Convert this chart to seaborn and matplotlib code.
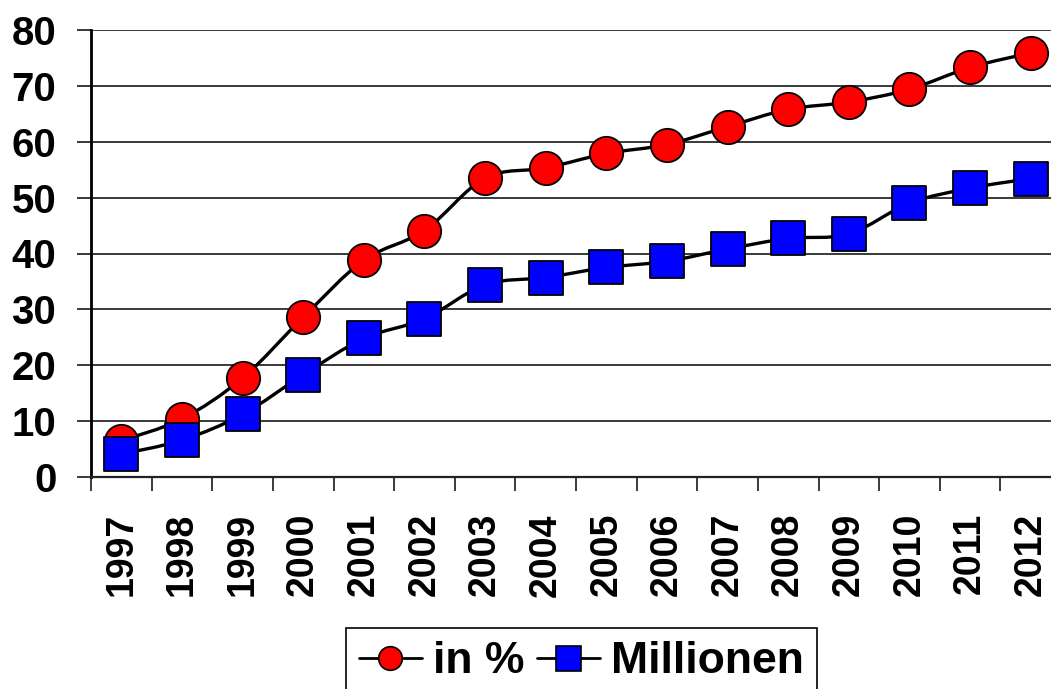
import numpy as np
import matplotlib
matplotlib.use("Agg")
import matplotlib.pyplot as plt
from matplotlib.path import Path
from matplotlib.patches import PathPatch
from matplotlib.lines import Line2D
import pandas as pd
import seaborn as sns

# Internet users in Germany, 1997-2012
years = ["1997", "1998", "1999", "2000", "2001", "2002", "2003", "2004",
         "2005", "2006", "2007", "2008", "2009", "2010", "2011", "2012"]
share_pct = [6.5, 10.4, 17.7, 28.6, 38.8, 44.1, 53.5, 55.3,
             57.9, 59.5, 62.7, 65.8, 67.1, 69.4, 73.3, 75.9]
users_mio = [4.1, 6.6, 11.2, 18.3, 24.8, 28.3, 34.4, 35.7,
             37.5, 38.6, 40.8, 42.7, 43.5, 49.0, 51.7, 53.4]
series_names = ["in %", "Millionen"]
y_ticks = [0, 10, 20, 30, 40, 50, 60, 70, 80]

sns.set_theme(style="white")
plt.rcParams["font.family"] = ["Liberation Sans", "DejaVu Sans"]
plt.rcParams["font.weight"] = "bold"
plt.rcParams["text.color"] = "black"
plt.rcParams["xtick.color"] = "black"
plt.rcParams["ytick.color"] = "black"
plt.rcParams["xtick.labelcolor"] = "black"
plt.rcParams["ytick.labelcolor"] = "black"

x = np.arange(len(years))
df = pd.DataFrame({"x": np.concatenate([x, x]),
                   "value": share_pct + users_mio,
                   "series": [series_names[0]] * len(years) + [series_names[1]] * len(years)})

W, H = 1051, 689
fig = plt.figure(figsize=(W / 100, H / 100), dpi=100)
ax = fig.add_axes([91 / W, (H - 477) / H, 970 / W, 447 / H])


def smooth_path(xs, ys):
    """Cubic Bezier path through the points (Catmull-Rom style smoothing)."""
    pts = np.column_stack([xs, ys]).astype(float)
    n = len(pts)
    verts = [pts[0]]
    codes = [Path.MOVETO]
    for i in range(n - 1):
        p0 = pts[i - 1] if i > 0 else pts[i]
        p1 = pts[i]
        p2 = pts[i + 1]
        p3 = pts[i + 2] if i + 2 < n else pts[i + 1]
        c1 = p1 + (p2 - p0) / 6.0
        c2 = p2 - (p3 - p1) / 6.0
        verts += [c1, c2, p2]
        codes += [Path.CURVE4] * 3
    return Path(verts, codes)


colors = {series_names[0]: "#ff0000", series_names[1]: "#0000ff"}
markers = {series_names[0]: "o", series_names[1]: "s"}

for z, (name, vals) in enumerate([(series_names[0], share_pct), (series_names[1], users_mio)]):
    ax.add_patch(PathPatch(smooth_path(x, vals), facecolor="none",
                           edgecolor="black", lw=2.4, zorder=3 + 2 * z))
    sns.scatterplot(data=df[df["series"] == name], x="x", y="value", ax=ax,
                    marker=markers[name], s=24 ** 2, color=colors[name],
                    edgecolor="black", linewidth=1.3, zorder=4 + 2 * z,
                    legend=False)

ax.set_xlim(-0.5, len(years) - 0.5)
ax.set_ylim(0, 80)
ax.set_xlabel("")
ax.set_ylabel("")

# horizontal grid lines
ax.set_yticks(y_ticks)
ax.set_yticklabels([str(v) for v in y_ticks], fontsize=29, fontweight="bold", color="black")
ax.yaxis.grid(True, color="#3a3a3a", lw=1.4)
ax.set_axisbelow(True)
ax.tick_params(axis="y", length=10, width=1.4, color="#3a3a3a", pad=15, left=True)

# category boundaries as tick marks, year labels centered between them
ax.set_xticks(np.arange(-0.5, len(years) + 0.5, 1.0))
ax.set_xticklabels([])
ax.set_xticks(x, minor=True)
ax.set_xticklabels(years, minor=True, rotation=90, fontsize=27, fontweight="bold", color="black")
ax.tick_params(axis="x", which="major", length=10, width=1.4, color="#3a3a3a", bottom=True)
ax.tick_params(axis="x", which="minor", length=0, pad=26)

for side in ["top", "right"]:
    ax.spines[side].set_visible(False)
ax.spines["left"].set_color("black")
ax.spines["left"].set_linewidth(2)
ax.spines["bottom"].set_color("#222222")
ax.spines["bottom"].set_linewidth(1.6)

handles = [
    Line2D([], [], color="black", lw=2, marker="o", markersize=17,
           markerfacecolor="#ff0000", markeredgecolor="black", markeredgewidth=1.2),
    Line2D([], [], color="black", lw=2, marker="s", markersize=18,
           markerfacecolor="#0000ff", markeredgecolor="black", markeredgewidth=1.2),
]
leg = fig.legend(handles, series_names, loc="upper left",
                 bbox_to_anchor=(346 / W, 1 - 628 / H), ncol=2,
                 prop={"size": 32, "weight": "bold"}, frameon=True, fancybox=False,
                 edgecolor="black", framealpha=1, handlelength=1.4,
                 handletextpad=0.25, columnspacing=0.3, borderpad=0.3,
                 borderaxespad=0, labelcolor="black")
leg.get_frame().set_linewidth(1.2)

fig.savefig("out.png", dpi=100)
